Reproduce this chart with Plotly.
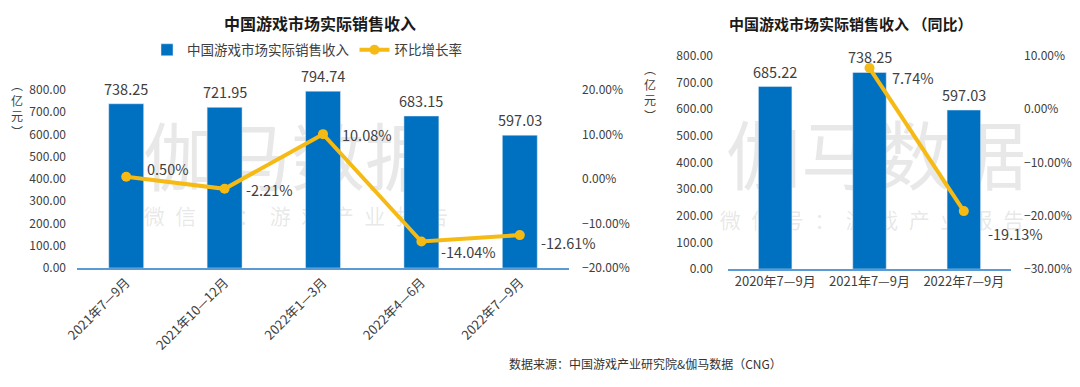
import plotly.graph_objects as go

# ---------------- data ----------------
q_labels = ["2021年7—9月", "2021年10—12月", "2022年1—3月", "2022年4—6月", "2022年7—9月"]
q_revenue = [738.25, 721.95, 794.74, 683.15, 597.03]
q_growth = [0.50, -2.21, 10.08, -14.04, -12.61]

y_labels = ["2020年7—9月", "2021年7—9月", "2022年7—9月"]
y_revenue = [685.22, 738.25, 597.03]
y_growth = [None, 7.74, -19.13]

bar_name = "中国游戏市场实际销售收入"
line_name = "环比增长率"
title_left = "中国游戏市场实际销售收入"
title_right = "中国游戏市场实际销售收入 （同比）"
source_text = "数据来源：中国游戏产业研究院&伽马数据（CNG）"
watermark_main = "伽马数据"
watermark_sub = "\u2002".join("微信号：游戏产业报告")

# label offsets (px) for growth-rate labels
q_lbl_shift = [(19, 8), (19, -1), (17, 0), (18, -10), (19, -7)]
y_lbl_shift = [(0, 0), (20, -9), (22, -22)]

# ---------------- style ----------------
FONT = "Noto Sans CJK SC, Microsoft YaHei, sans-serif"
BAR_COLOR = "#0070C0"
LINE_COLOR = "#F5BA14"
AXIS_COLOR = "#5B9BD5"
TXT = "#404040"

# page body has an 8px margin; compensate so the figure lands on the 1080x387 view
OFF = 8
W, H = 1080 - OFF, 387 - OFF
def px(x): return (x - OFF) / W
def py(y): return 1 - (y - OFF) / H

fig = go.Figure()

fig.add_trace(go.Bar(
    x=q_labels, y=q_revenue, name=bar_name, marker_color=BAR_COLOR,
    xaxis="x", yaxis="y", showlegend=True))
fig.add_trace(go.Scatter(
    x=q_labels, y=q_growth, name=line_name, mode="lines+markers",
    line=dict(color=LINE_COLOR, width=4), marker=dict(size=10, color=LINE_COLOR),
    cliponaxis=False, xaxis="x", yaxis="y2", showlegend=True))

fig.add_trace(go.Bar(
    x=y_labels, y=y_revenue, name=bar_name, marker_color=BAR_COLOR,
    xaxis="x2", yaxis="y3", showlegend=False))
fig.add_trace(go.Scatter(
    x=y_labels, y=y_growth, name=line_name, mode="lines+markers",
    line=dict(color=LINE_COLOR, width=4), marker=dict(size=10, color=LINE_COLOR),
    cliponaxis=False, connectgaps=False, xaxis="x2", yaxis="y4", showlegend=False))

tickfont = dict(size=12, color=TXT, family=FONT)
xfont = dict(size=13, color=TXT, family=FONT)
common_y = dict(showgrid=False, zeroline=False, tickfont=tickfont,
                automargin=False, tickformat=".2f")
common_x = dict(showline=True, linecolor=AXIS_COLOR, linewidth=1.5, ticks="",
                tickfont=xfont, showgrid=False, automargin=False)

fig.update_layout(
    width=W, height=H,
    margin=dict(l=0, r=0, t=0, b=0, pad=0, autoexpand=False),
    paper_bgcolor="white", plot_bgcolor="white",
    font=dict(family=FONT, color=TXT),
    bargap=0.645,
    xaxis=dict(domain=[px(77), px(569)], anchor="y", tickangle=-45,
               range=[-0.5, len(q_labels) - 0.5], **common_x),
    yaxis=dict(domain=[py(268), py(90)], anchor="x", range=[0, 800], dtick=100,
               ticklabelstandoff=10, **common_y),
    yaxis2=dict(overlaying="y", side="right", anchor="x", range=[-20, 20], dtick=10,
                ticksuffix="%", ticklabelstandoff=12, **common_y),
    xaxis2=dict(domain=[px(728), px(1011)], anchor="y3", tickangle=0,
                range=[-0.5, len(y_labels) - 0.5], **common_x),
    yaxis3=dict(domain=[py(269), py(56)], anchor="x2", range=[0, 800], dtick=100,
                ticklabelstandoff=14, **common_y),
    yaxis4=dict(overlaying="y3", side="right", anchor="x2", range=[-30, 10], dtick=10,
                ticksuffix="%", ticklabelstandoff=12, **common_y),
    legend=dict(orientation="h", x=px(147), y=py(50), xanchor="left", yanchor="middle",
                font=dict(size=13.5, color=TXT, family=FONT), bgcolor="rgba(0,0,0,0)",
                traceorder="normal"),
    hovermode=False,
)

# watermarks, drawn below the bars
wm = "rgba(150,150,150,0.22)"
shapes = []
def watermark(text, cx, cy, size):
    shapes.append(dict(type="rect", xref="paper", yref="paper", layer="below",
                       x0=px(cx - 200), x1=px(cx + 200), y0=py(cy + 40), y1=py(cy - 40),
                       line=dict(width=0), fillcolor="rgba(0,0,0,0)",
                       label=dict(text=text, textposition="middle center",
                                  font=dict(size=size, color=wm, family=FONT))))
watermark(watermark_main, 291, 164, 74)
watermark(watermark_sub, 296, 218, 21)
watermark(watermark_main, 876, 163, 75)
watermark(watermark_sub, 872, 222, 21)
fig.update_layout(shapes=shapes)

ann = []
def paper_text(text, x, y, size, color=TXT, xanchor="center"):
    ann.append(dict(text=text, x=px(x), y=py(y), xref="paper", yref="paper",
                    xanchor=xanchor, yanchor="middle", showarrow=False,
                    font=dict(size=size, color=color, family=FONT)))

# titles
paper_text(f"<b>{title_left}</b>", 320, 23, 16, "#1a1a1a")
paper_text(f"<b>{title_right}</b>", 850, 23, 15, "#1a1a1a")
# unit labels
paper_text("︵<br>亿<br>元<br>︶", 17, 108, 12)
paper_text("︵<br>亿<br>元<br>︶", 650, 92, 12)
# source
paper_text(source_text, 507, 363, 12, "#333333", xanchor="left")

# bar value labels
for xs, ys, xr, yr in [(q_labels, q_revenue, "x", "y"), (y_labels, y_revenue, "x2", "y3")]:
    for c, v in zip(xs, ys):
        ann.append(dict(text=f"{v:.2f}", x=c, y=v, xref=xr, yref=yr, xanchor="center",
                        yanchor="middle", yshift=15.5, showarrow=False,
                        font=dict(size=14.5, color=TXT, family=FONT)))
# growth-rate labels
for xs, ys, shifts, xr, yr in [(q_labels, q_growth, q_lbl_shift, "x", "y2"),
                               (y_labels, y_growth, y_lbl_shift, "x2", "y4")]:
    for c, v, (dx, dy) in zip(xs, ys, shifts):
        if v is None:
            continue
        ann.append(dict(text=f"{v:.2f}%", x=c, y=v, xref=xr, yref=yr, xanchor="left",
                        yanchor="middle", xshift=dx, yshift=dy, showarrow=False,
                        font=dict(size=14.5, color=TXT, family=FONT)))

fig.update_layout(annotations=ann)
fig.write_html("out.html")
